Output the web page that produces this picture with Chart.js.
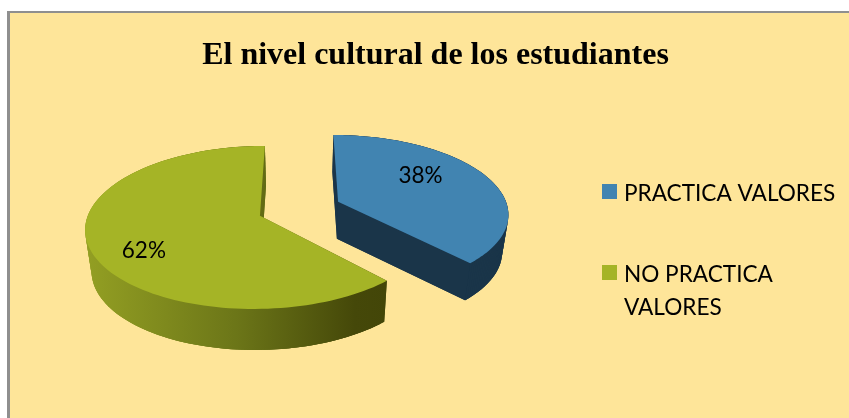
<!DOCTYPE html>
<html lang="es">
<head>
<meta charset="utf-8">
<title>El nivel cultural de los estudiantes</title>
<script src="https://cdn.jsdelivr.net/npm/chart.js@4"></script>
<style>
  html, body { margin: 0; background: #fff; overflow: hidden; }
  #marco { position: absolute; left: 7px; top: 11px; width: 900px; height: 500px;
           background: #FEE599; border: 2px solid #8f8f8f; border-left-width: 3px; }
  #grafica { position: absolute; left: 0; top: 0; }
</style>
</head>
<body>
<div id="marco"></div>
<canvas id="grafica" width="849" height="418"></canvas>
<script>
const titulo = 'El nivel cultural de los estudiantes';
const categorias = ['PRACTICA VALORES', 'NO PRACTICA VALORES'];
const valores = [38, 62];
const lineasLeyenda = [['PRACTICA VALORES'], ['NO PRACTICA', 'VALORES']];
const colores = ['#4184B1', '#A5B426'];
const coloresLado = ['#1A3549', null];

// Perspectiva del pastel 3D
const inclinacion = 0.458;
const fuga = 0.14;
const alturaLado = [37, 41];
const convergencia = 0.03;
const fuenteTexto = 'Lato, "Open Sans", sans-serif';

function proyectar(arco, angulo, r) {
  const R = arco.outerRadius;
  const medio = (arco.startAngle + arco.endAngle) / 2;
  const sep = arco.options.offset / 4;
  const dx = Math.cos(medio) * sep + Math.cos(angulo) * r * R;
  const dy = Math.sin(medio) * sep + Math.sin(angulo) * r * R;
  const s = 1 / (1 - fuga * dy / R);
  return { x: arco.x + dx * s, y: arco.y + inclinacion * dy * s };
}

function bajar(p, cx, alto) {
  return { x: p.x + (cx - p.x) * convergencia, y: p.y + alto };
}

function contorno(arco) {
  const puntos = [proyectar(arco, 0, 0)];
  const pasos = 120;
  for (let i = 0; i <= pasos; i++) {
    const a = arco.startAngle + (arco.endAngle - arco.startAngle) * i / pasos;
    puntos.push(proyectar(arco, a, 1));
  }
  return puntos;
}

function rellenar(ctx, puntos, color) {
  ctx.beginPath();
  puntos.forEach((p, i) => i ? ctx.lineTo(p.x, p.y) : ctx.moveTo(p.x, p.y));
  ctx.closePath();
  ctx.fillStyle = color;
  ctx.fill();
}

const pastel3d = {
  id: 'pastel3d',
  afterLayout(chart) {
    // el titulo va centrado en el marco, no sobre el pastel
    chart.titleBlock.left = 10;
    chart.titleBlock.right = 861;
  },
  beforeDatasetsDraw(chart) {
    const ctx = chart.ctx;
    const arcos = chart.getDatasetMeta(0).data;

    const degradado = ctx.createLinearGradient(86, 0, 385, 0);
    degradado.addColorStop(0, '#939F23');
    degradado.addColorStop(0.5, '#6C7618');
    degradado.addColorStop(0.9, '#454809');
    degradado.addColorStop(1, '#434608');

    arcos.forEach((arco, i) => {
      const borde = contorno(arco);
      const lado = coloresLado[i] || degradado;
      const abajo = p => bajar(p, arco.x, alturaLado[i]);
      rellenar(ctx, borde.map(abajo), lado);
      // pared curva: cada cara pisa a la siguiente para que no queden rayas
      for (let j = 1; j < borde.length - 1; j++) {
        const p = borde[j];
        const q = borde[Math.min(j + 2, borde.length - 1)];
        rellenar(ctx, [p, q, abajo(q), abajo(p)], lado);
      }
      // paredes rectas hacia el centro
      [borde[1], borde[borde.length - 1]].forEach(q => {
        rellenar(ctx, [borde[0], q, abajo(q), abajo(borde[0])], lado);
      });
      rellenar(ctx, borde, colores[i]);
    });

    // etiquetas de porcentaje
    const radioEtiqueta = [0.55, 0.69];
    const ajusteY = [-11, 14];
    ctx.font = '22.5px ' + fuenteTexto;
    ctx.fillStyle = '#000';
    ctx.textAlign = 'center';
    ctx.textBaseline = 'middle';
    arcos.forEach((arco, i) => {
      const medio = (arco.startAngle + arco.endAngle) / 2;
      const p = proyectar(arco, medio, radioEtiqueta[i]);
      ctx.fillText(valores[i] + '%', p.x, p.y + ajusteY[i]);
    });
    return false;
  },
  afterDraw(chart) {
    // leyenda: la del plugin no deja separar las lineas sin mover el cuadro
    const ctx = chart.ctx;
    const yCuadro = [184, 265];
    ctx.font = '22.6px ' + fuenteTexto;
    ctx.textAlign = 'left';
    ctx.textBaseline = 'middle';
    categorias.forEach((c, i) => {
      ctx.fillStyle = colores[i];
      ctx.fillRect(602, yCuadro[i], 15, 15);
      ctx.fillStyle = '#000';
      lineasLeyenda[i].forEach((linea, j) => {
        ctx.fillText(linea, 624, yCuadro[i] + 9.5 + j * 33);
      });
    });
  }
};

new Chart(document.getElementById('grafica'), {
  type: 'pie',
  data: {
    labels: categorias,
    datasets: [{
      data: valores,
      backgroundColor: colores,
      borderWidth: 0,
      offset: 168,
      radius: 170
    }]
  },
  options: {
    responsive: false,
    animation: false,
    layout: { padding: { left: 8, right: 258, bottom: 83 } },
    plugins: {
      legend: { display: false },
      tooltip: { enabled: false },
      title: {
        display: true,
        text: titulo,
        color: '#000',
        font: { family: '"Liberation Serif", serif', size: 32, weight: 'bold' },
        padding: { top: 37, bottom: 7 }
      }
    }
  },
  plugins: [pastel3d]
});
</script>
</body>
</html>
